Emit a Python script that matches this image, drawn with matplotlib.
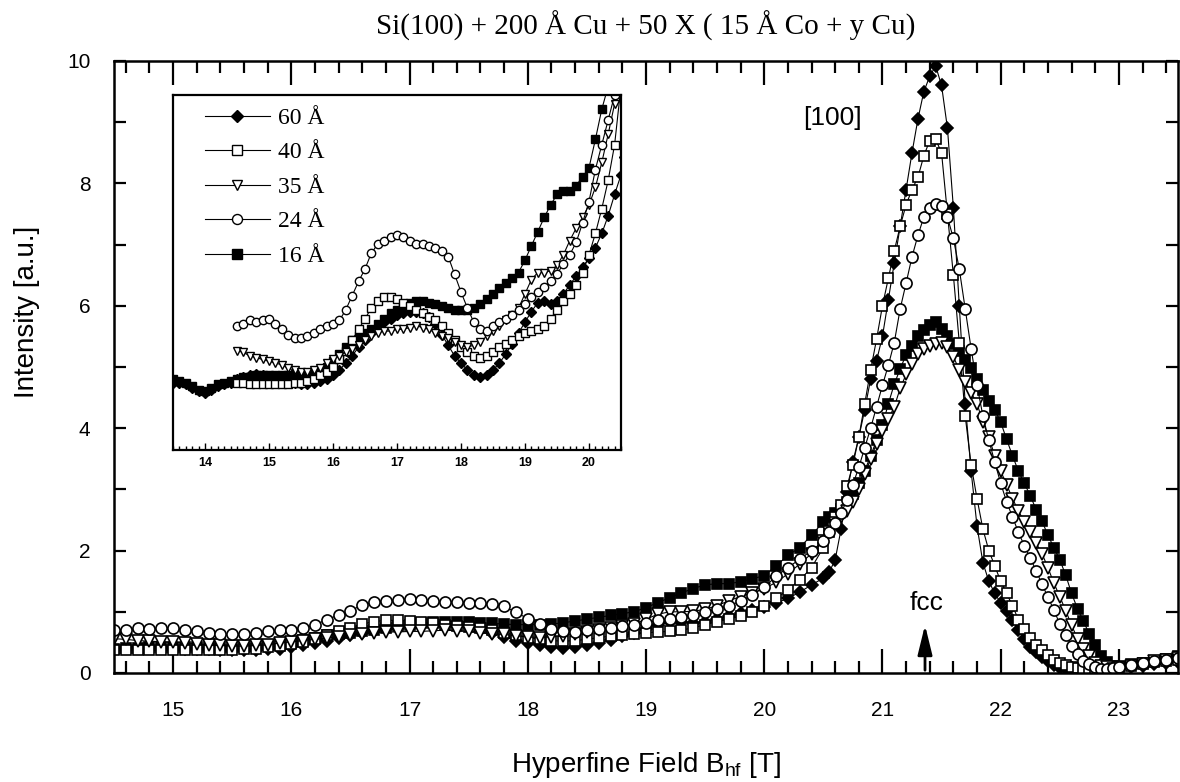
import numpy as np
import matplotlib
matplotlib.use('Agg')
import matplotlib.pyplot as plt
from matplotlib.ticker import MultipleLocator

plt.rcParams['font.family'] = ['Liberation Sans', 'DejaVu Sans']
plt.rcParams['mathtext.default'] = 'regular'

# hyperfine field grid [T]: 0.1 T steps, 0.05 T steps around the fcc peak
field_a = np.round(np.arange(13.5, 14.45, 0.1), 2)   # 13.5 - 14.4
field_b = np.round(np.arange(14.5, 20.45, 0.1), 2)   # 14.5 - 20.4
field_c = np.round(np.arange(20.5, 23.025, 0.05), 2) # 20.5 - 23.0
field_d = np.round(np.arange(23.1, 23.55, 0.1), 2)   # 23.1 - 23.5
field_long = np.concatenate([field_a, field_b, field_c, field_d])
field_short = np.concatenate([field_b, field_c, field_d])

labels = ['60 Å', '40 Å', '35 Å', '24 Å', '16 Å']

int_60 = [
    0.38, 0.38, 0.37, 0.35, 0.33, 0.32, 0.34, 0.36, 0.37, 0.38,
    0.40, 0.41, 0.42, 0.43, 0.42, 0.41, 0.40, 0.40, 0.39, 0.38,
    0.37, 0.37, 0.38, 0.39, 0.40, 0.42, 0.45, 0.49, 0.53, 0.58,
    0.62, 0.66, 0.69, 0.72, 0.74, 0.76, 0.77, 0.78, 0.78, 0.77,
    0.75, 0.71, 0.65, 0.59, 0.53, 0.49, 0.45, 0.42, 0.41, 0.42,
    0.45, 0.49, 0.54, 0.60, 0.66, 0.72, 0.78, 0.83, 0.84, 0.82,
    0.84, 0.88, 0.93, 0.98, 1.03, 1.08, 1.14, 1.22, 1.32, 1.44,
    1.55, 1.65, 1.85, 2.35, 2.95, 3.45, 3.85, 4.30, 4.80, 5.10,
    5.50, 6.10, 6.70, 7.30, 7.90, 8.50, 9.05, 9.50, 9.75, 9.92,
    9.60, 8.90, 7.60, 6.00, 4.40, 3.30, 2.40, 1.80, 1.50, 1.30,
    1.15, 1.02, 0.87, 0.70, 0.55, 0.43, 0.34, 0.26, 0.20, 0.13,
    0.08, 0.06, 0.05, 0.05, 0.04, 0.04, 0.05, 0.05, 0.06, 0.07,
    0.08,
    0.10, 0.12, 0.14, 0.16, 0.18]

int_40 = [
    0.38, 0.38, 0.37, 0.37, 0.37, 0.37, 0.37, 0.37, 0.37, 0.38,
    0.38, 0.39, 0.40, 0.42, 0.44, 0.47, 0.51, 0.56, 0.62, 0.68,
    0.74, 0.80, 0.84, 0.86, 0.86, 0.85, 0.83, 0.81, 0.79, 0.77,
    0.75, 0.73, 0.70, 0.66, 0.62, 0.58, 0.55, 0.53, 0.52, 0.53,
    0.55, 0.58, 0.60, 0.62, 0.64, 0.66, 0.67, 0.68, 0.70, 0.74,
    0.79, 0.84, 0.88, 0.93, 1.00, 1.10, 1.22, 1.36, 1.52, 1.72,
    2.05, 2.30, 2.55, 2.75, 3.05, 3.40, 3.85, 4.40, 4.95, 5.45,
    6.00, 6.45, 6.90, 7.30, 7.65, 7.90, 8.10, 8.45, 8.70, 8.72,
    8.50, 7.50, 6.50, 5.40, 4.20, 3.40, 2.85, 2.35, 2.00, 1.75,
    1.50, 1.30, 1.10, 0.87, 0.72, 0.57, 0.46, 0.37, 0.29, 0.22,
    0.17, 0.13, 0.10, 0.08, 0.07, 0.06, 0.06, 0.06, 0.07, 0.08,
    0.09,
    0.12, 0.15, 0.18, 0.20, 0.22]

int_35 = [
    0.56, 0.55, 0.53, 0.52, 0.51, 0.50, 0.49, 0.48, 0.46, 0.45,
    0.44, 0.44, 0.45, 0.46, 0.49, 0.51, 0.53, 0.55, 0.57, 0.59,
    0.62, 0.64, 0.66, 0.67, 0.67, 0.68, 0.68, 0.69, 0.70, 0.69,
    0.68, 0.66, 0.64, 0.63, 0.61, 0.59, 0.58, 0.59, 0.61, 0.64,
    0.67, 0.70, 0.73, 0.76, 0.80, 0.88, 0.96, 1.00, 1.00, 1.01,
    1.04, 1.10, 1.18, 1.25, 1.31, 1.38, 1.48, 1.62, 1.78, 1.95,
    2.15, 2.30, 2.45, 2.55, 2.65, 2.80, 3.00, 3.25, 3.50, 3.75,
    3.95, 4.15, 4.35, 4.65, 4.88, 5.05, 5.22, 5.30, 5.35, 5.38,
    5.40, 5.33, 5.17, 4.95, 4.75, 4.58, 4.40, 4.10, 3.85, 3.55,
    3.30, 3.08, 2.85, 2.65, 2.47, 2.30, 2.12, 1.95, 1.72, 1.47,
    1.25, 1.02, 0.78, 0.56, 0.40, 0.27, 0.17, 0.12, 0.09, 0.07,
    0.08,
    0.12, 0.15, 0.19, 0.22, 0.24]

int_24 = [
    0.70, 0.71, 0.73, 0.72, 0.73, 0.74, 0.71, 0.68, 0.65, 0.63,
    0.63, 0.64, 0.66, 0.68, 0.70, 0.71, 0.73, 0.79, 0.87, 0.95,
    1.02, 1.11, 1.16, 1.18, 1.20, 1.21, 1.20, 1.18, 1.16, 1.16,
    1.15, 1.14, 1.12, 1.09, 0.99, 0.89, 0.80, 0.72, 0.68, 0.67,
    0.70, 0.72, 0.74, 0.76, 0.79, 0.82, 0.86, 0.89, 0.92, 0.95,
    0.99, 1.05, 1.10, 1.17, 1.28, 1.40, 1.58, 1.72, 1.86, 2.00,
    2.15, 2.30, 2.45, 2.62, 2.82, 3.08, 3.36, 3.68, 4.00, 4.35,
    4.70, 5.03, 5.40, 5.95, 6.37, 6.80, 7.15, 7.45, 7.60, 7.67,
    7.63, 7.45, 7.10, 6.60, 5.95, 5.30, 4.70, 4.20, 3.80, 3.45,
    3.10, 2.80, 2.55, 2.30, 2.08, 1.88, 1.67, 1.45, 1.24, 1.03,
    0.80, 0.62, 0.44, 0.31, 0.20, 0.14, 0.09, 0.07, 0.07, 0.08,
    0.09,
    0.13, 0.16, 0.20, 0.22, 0.25]

int_16 = [
    0.40, 0.39, 0.38, 0.36, 0.34, 0.33, 0.35, 0.37, 0.38, 0.39,
    0.40, 0.41, 0.41, 0.42, 0.42, 0.42, 0.42, 0.42, 0.42, 0.43,
    0.43, 0.43, 0.44, 0.45, 0.47, 0.50, 0.54, 0.58, 0.62, 0.64,
    0.66, 0.68, 0.71, 0.74, 0.77, 0.79, 0.81, 0.83, 0.84, 0.84,
    0.83, 0.82, 0.81, 0.80, 0.79, 0.79, 0.79, 0.80, 0.82, 0.85,
    0.88, 0.91, 0.94, 0.97, 1.00, 1.07, 1.15, 1.23, 1.31, 1.38,
    1.44, 1.46, 1.46, 1.49, 1.54, 1.59, 1.75, 1.92, 2.05, 2.25,
    2.47, 2.55, 2.62, 2.68, 2.80, 2.93, 3.10, 3.30, 3.55, 3.80,
    4.05, 4.40, 4.72, 4.97, 5.20, 5.35, 5.50, 5.60, 5.68, 5.73,
    5.62, 5.50, 5.38, 5.26, 5.12, 4.98, 4.80, 4.62, 4.45, 4.30,
    4.10, 3.82, 3.55, 3.30, 3.10, 2.90, 2.67, 2.48, 2.25, 2.05,
    1.85, 1.60, 1.30, 1.05, 0.85, 0.63, 0.45, 0.28, 0.18, 0.12,
    0.11,
    0.14, 0.17, 0.20, 0.23, 0.27]

# label, x, y, marker, filled, main size, inset size
series = [
    ('16 Å', field_long, int_16, 's', True, 7.5, 5.5),
    ('60 Å', field_long, int_60, 'D', True, 6.5, 5.0),
    ('40 Å', field_short, int_40, 's', False, 7.0, 5.5),
    ('35 Å', field_short, int_35, 'v', False, 8.5, 6.0),
    ('24 Å', field_short, int_24, 'o', False, 8.0, 6.0),
]

fig = plt.figure(figsize=(11.8, 7.82), dpi=100)
ax = fig.add_axes([114 / 1180, 1 - 673 / 782, 1064 / 1180, 612 / 782])

for lab, x, y, mk, filled, ms, ms_in in series:
    ax.plot(x, y, color='k', lw=0.8, marker=mk, ms=ms, mec='k', mew=1.2,
            mfc='k' if filled else 'white', label=lab)

ax.set_xlim(14.5, 23.5)
ax.set_ylim(0, 10)
ax.xaxis.set_major_locator(MultipleLocator(1))
ax.xaxis.set_minor_locator(MultipleLocator(0.2))
ax.yaxis.set_major_locator(MultipleLocator(2))
ax.yaxis.set_minor_locator(MultipleLocator(1))
ax.tick_params(which='both', direction='in', top=True, right=True, width=1.6)
ax.tick_params(axis='x', which='major', length=17, pad=20, labelsize=15)
ax.tick_params(axis='x', which='minor', length=8.5)
ax.tick_params(axis='y', which='both', length=8.5)
ax.tick_params(axis='y', which='major', pad=17, labelsize=15)
for sp in ax.spines.values():
    sp.set_linewidth(1.8)

# fcc marker and orientation label
ax.annotate('', xy=(21.36, 0.83), xytext=(21.36, 0.0),
            arrowprops=dict(arrowstyle='-|>,head_length=0.9,head_width=0.22',
                            mutation_scale=20, lw=2, color='k'))
ax.text(21.37, 1.15, 'fcc', ha='center', va='center', fontsize=19)
ax.text(20.58, 9.07, '[100]', ha='center', va='center', fontsize=19)

# inset: low-field region
ax_in = fig.add_axes([173 / 1180, 1 - 450 / 782, 448 / 1180, 355 / 782])
ax_in.set_facecolor('white')
handles = {}
for lab, x, y, mk, filled, ms, ms_in in series:
    h, = ax_in.plot(x, y, color='k', lw=0.8, marker=mk, ms=ms_in, mec='k',
                    mew=1.0, mfc='k' if filled else 'white')
    handles[lab] = h
ax_in.set_xlim(13.5, 20.5)
ax_in.set_ylim(0, 2)
ax_in.set_yticks([])
ax_in.set_xticks(range(14, 21))
ax_in.set_xticklabels([str(v) for v in range(14, 21)], fontweight='bold')
ax_in.xaxis.set_minor_locator(MultipleLocator(0.1))
ax_in.tick_params(axis='x', which='both', direction='in', width=1.0,
                  labelsize=9, pad=5)
ax_in.tick_params(axis='x', which='major', length=5)
ax_in.tick_params(axis='x', which='minor', length=3)
for sp in ax_in.spines.values():
    sp.set_linewidth(1.6)

ax_in.legend([handles[l] for l in labels], labels, frameon=False,
             loc='upper left', bbox_to_anchor=(0.071, 0.965),
             borderaxespad=0, borderpad=0, handlelength=2.75,
             handletextpad=0.35, labelspacing=0.55, markerscale=1.2,
             prop=dict(family='Liberation Serif', size=17))

fig.text(646 / 1180, 1 - 26 / 782, 'Si(100) + 200 Å Cu + 50 X ( 15 Å Co + y Cu)',
         ha='center', va='center', family='Liberation Serif', fontsize=21)
fig.text(646 / 1180, 1 - 765 / 782, 'Hyperfine Field B$_{hf}$ [T]',
         ha='center', va='center', fontsize=20)
fig.text(27 / 1180, 1 - 312 / 782, 'Intensity [a.u.]', rotation=90,
         ha='center', va='center', fontsize=20)

fig.savefig('out.png', dpi=100)
